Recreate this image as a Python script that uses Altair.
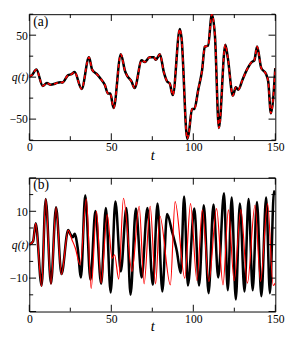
import altair as alt
import pandas as pd

# ---- panel (a) ----
ta = [0, 1.4, 4.3, 8.2, 10.7, 13, 16, 18.9, 20, 23.7, 25.7, 27.6, 31.9, 36.4, 38.3, 41.2, 43.5, 46, 48, 49.4,
      51.4, 55.8, 58.4, 59.7, 62.3, 64.2, 68.5, 70.4, 73.3, 75.9, 77.2, 79.6, 82.1, 84, 85.6, 87.5, 91.8, 92.8, 96.3, 97.3,
      99.2, 100.6, 103, 105.4, 107, 109, 111.3, 113.2, 115.6, 119.5, 121, 124.1, 125.9, 127.4, 130, 132.7, 135.6, 137.2, 138.9, 141.4,
      144.4, 145.7, 147.3, 150]
qa = [1, 2, 9, -10.5, -7, -9, -7.5, -6, -6.5, 2.4, 3.5, 6, -14, 23.6, 9, 3.5, -2, -9, -19.6, -19.6,
      -36.8, 27.3, 7, 1.6, -5, -13, 20, 18, 23.6, 23.6, 20.7, 27.3, 5.3, -5, -7.5, -21.4, 57.3, 47, -73.4, -66,
      -38, -38, -15, 9, 36.4, 37.5, 75, 49, -60.6, 38.6, 23.6, -22, -12, -15, -3, 9, 18, 20, 36.4, 11,
      3.5, -5.7, -43, 10.8]

# ---- panel (b) ----
tb_k = [0, 2.3, 3.9, 7.5, 10, 13.2, 16.3, 19.6, 23.7, 25, 26.5, 27.6, 29.5, 31.5, 34.1, 37.3, 40.3, 43.8, 46.7, 49.6,
        52.5, 55.8, 59.2, 61.7, 65, 68.5, 72, 75.3, 78.2, 81.1, 84, 87, 90, 92.3, 94.4, 96.7, 100.6, 103.5, 106.4, 109.3,
        112.3, 115.2, 118.7, 121, 123.4, 125.9, 128.4, 131.2, 133.7, 136.2, 138.8, 141.5, 144.4, 146.7, 149.2, 150]
qb_k = [0, 1, 6.4, -12.3, 13.7, -11.6, 11.2, -8.8, 4.4, 3.2, 2.2, 3.3, -1, -9.8, 14.8, -10.5, 10.1, -11.7, 11, -14.3,
        12.9, -8, 11, -15, 10.8, -9.8, 11, -12, 12.3, -14, 9.2, 4, -2, -8.5, 14.4, -12.2, 10.8, -12.2, 11.8, -14.5,
        12, -9.8, 15.4, -13.6, 14.1, -16.4, 12.3, -14, 13.7, -13.6, 12.8, -15.4, 14.1, -14.5, 16, 15]
tb_r = [0, 2.3, 3.9, 7.5, 10, 13.2, 16.3, 19.6, 23.7, 26, 28, 31, 34.8, 37.7, 41, 43.8, 47.5, 50.5, 52, 54.5,
        57.4, 62.6, 67, 70, 73.7, 77, 79.6, 86, 88.9, 94.8, 98.3, 102.2, 105.5, 109.5, 114.2, 118.1, 121.4, 124.9, 129, 133,
        137.6, 141, 145.3, 148.7, 150]
qb_r = [0, 1, 6.4, -12.5, 13.7, -11.8, 11.2, -8.9, 4.3, 1.5, -0.9, -6, 13.7, -13.1, 10, -11.5, 9, -4, -3, -10.3,
        13.9, -8, 11.5, -11.7, 11.5, -11.7, 8.6, -12, 12.9, -10, 12.3, -10.7, 10.4, -11, 10.8, -12, 10.4, -10.8, 10.5, -11.5,
        11.8, -11, 12.3, -12.2, -11.5]

x_labels = [0, 50, 100, 150]
x_major = [0, 50, 100, 150]
x_minor = [25, 75, 125]

ya_domain = [-75, 75]
ya_labels = [-50, 50]
ya_major = [-50, 0, 50]
ya_minor = [-75, -25, 25, 75]

yb_domain = [-20, 20]
yb_labels = [-10, 10]
yb_major = [-20, -10, 0, 10, 20]
yb_minor = [-15, -5, 5, 15]

FONT = "'Liberation Serif', 'Times New Roman', serif"
W = 254


def panel(series, ydom, ylabels, ymaj, ymin, tag, H):
    xs = alt.Scale(domain=[0, 150], nice=False, zero=False)
    ys = alt.Scale(domain=ydom, nice=False, zero=False)
    AX = alt.Axis(values=x_labels, ticks=False, domain=False, grid=False,
                  labelFont=FONT, labelFontSize=12, labelColor="black",
                  labelPadding=2, labelFlush=False,
                  title="t", titleFont=FONT, titleFontSize=15,
                  titleFontStyle="italic", titleFontWeight="normal",
                  titleColor="black", titlePadding=-5)
    AY = alt.Axis(values=ylabels, ticks=False, domain=False, grid=False,
                  labelFont=FONT, labelFontSize=12, labelColor="black",
                  labelPadding=2, title=None)
    layers = []
    for (tt, qq, color, sw, dash) in series:
        df = pd.DataFrame({"t": tt, "q": qq})
        mk = dict(color=color, strokeWidth=sw, clip=True, interpolate="monotone")
        if dash:
            mk["strokeDash"] = dash
        layers.append(alt.Chart(df).mark_line(**mk).encode(
            x=alt.X("t:Q", scale=xs, axis=AX), y=alt.Y("q:Q", scale=ys, axis=AY)))

    def rules(vals, axis, length):
        d = pd.DataFrame({"v": vals})
        out = []
        if axis == "x":
            out.append(alt.Chart(d).mark_rule(color="black", strokeWidth=1).encode(
                x=alt.X("v:Q", scale=xs, axis=AX), y=alt.value(H), y2=alt.value(H - length)))
            out.append(alt.Chart(d).mark_rule(color="black", strokeWidth=1).encode(
                x=alt.X("v:Q", scale=xs, axis=AX), y=alt.value(0), y2=alt.value(length)))
        else:
            out.append(alt.Chart(d).mark_rule(color="black", strokeWidth=1).encode(
                y=alt.Y("v:Q", scale=ys, axis=AY), x=alt.value(0), x2=alt.value(length)))
            out.append(alt.Chart(d).mark_rule(color="black", strokeWidth=1).encode(
                y=alt.Y("v:Q", scale=ys, axis=AY), x=alt.value(W), x2=alt.value(W - length)))
        return out

    layers += rules(x_major, "x", 7) + rules(x_minor, "x", 4)
    layers += rules(ymaj, "y", 7) + rules(ymin, "y", 4)

    lab = alt.Chart(pd.DataFrame({"s": [tag]})).mark_text(
        font=FONT, fontSize=14, align="left", baseline="top", color="black").encode(
        text="s:N", x=alt.value(4), y=alt.value(1))
    ql = alt.Chart(pd.DataFrame({"s": ["q(t)"], "z": [0]})).mark_text(
        font=FONT, fontSize=12, fontStyle="italic", align="left", baseline="middle", color="black").encode(
        text="s:N", x=alt.value(-18), y=alt.Y("z:Q", scale=ys, axis=AY))
    layers += [lab, ql]
    return alt.layer(*layers).properties(width=W, height=H)


pa = panel([(ta, qa, "black", 2.6, None), (ta, qa, "#ff0000", 1.6, [4, 3])],
           ya_domain, ya_labels, ya_major, ya_minor, "(a)", 130)
pb = panel([(tb_k, qb_k, "black", 2.6, None), (tb_r, qb_r, "#ff0000", 1.2, None)],
           yb_domain, yb_labels, yb_major, yb_minor, "(b)", 138)

chart = alt.vconcat(pa, pb, spacing=14).properties(padding=0, background="white").configure_view(
    stroke="black", strokeWidth=1)

chart.save("out.html", embed_options={"renderer": "svg", "actions": False})
